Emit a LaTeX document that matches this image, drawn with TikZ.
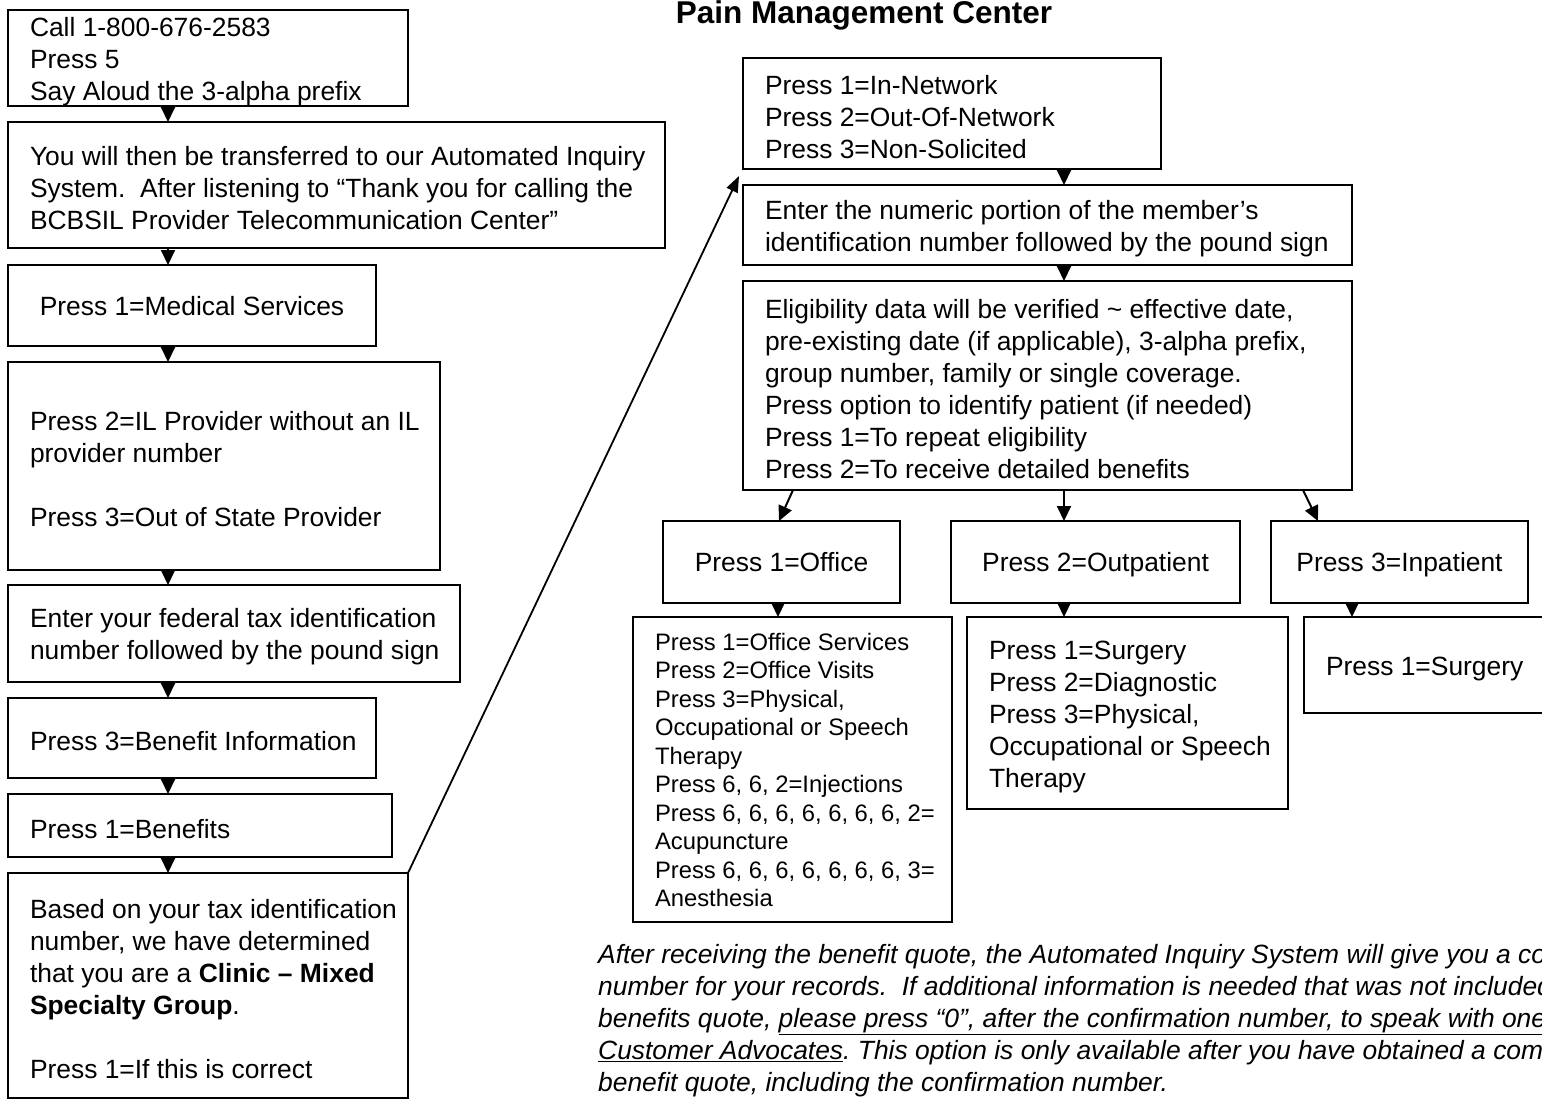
\documentclass[tikz,border=0pt]{standalone}
\usepackage{fontspec}
\setmainfont{Liberation Sans}
\usetikzlibrary{arrows.meta}

\newlength{\padtop}
\newcommand{\bodyfont}{\fontsize{26.4}{32}\selectfont\setlength{\padtop}{26pt}}
\newcommand{\smallfont}{\fontsize{23.8}{28.5}\selectfont\setlength{\padtop}{18pt}}
\newcommand{\titlefont}{\fontsize{31.5}{36}\selectfont\bfseries}

\tikzset{
  stepbox/.style={draw, line width=2.4pt, anchor=north west, outer sep=0pt,
    inner sep=0pt, align=flush left, font=\bodyfont,
    execute at begin node={\leftskip=22pt\relax\rule{0pt}{\padtop}}},
  midbox/.style={draw, line width=2.4pt, anchor=north west, outer sep=0pt,
    inner sep=0pt, align=flush center, font=\bodyfont,
    text height=19pt, text depth=0pt},
  flow/.style={line width=2pt, -{Triangle[length=15pt,width=14pt]}},
  jump/.style={line width=1.8pt, -{Triangle[length=16pt,width=12pt]}},
}

\begin{document}
\frenchspacing
\begin{tikzpicture}[x=1pt, y=-1pt]

    \useasboundingbox (0,0) rectangle (1542,1101);
    \fill[white] (0,0) rectangle (1542,1101);
    \clip (0,0) rectangle (1542,1101);

    % left column
    \node[stepbox, text width=400pt, minimum height=96pt] (call) at (8,10)
        {Call 1-800-676-2583\\Press 5\\Say Aloud the 3-alpha prefix};
    \node[stepbox, text width=657pt, minimum height=126pt] (xfer) at (8,122)
        {You will then be transferred to our Automated Inquiry\\System.\ \ After listening to “Thank you for calling the\\BCBSIL Provider Telecommunication Center”};
    \node[midbox, text width=368pt, minimum height=81pt] (med) at (8,265)
        {Press 1=Medical Services};
    \node[stepbox, text width=432pt, minimum height=208pt] (ilprov) at (8,362)
        {Press 2=IL Provider without an IL\\provider number\\[32pt]Press 3=Out of State Provider};
    \node[stepbox, text width=452pt, minimum height=97pt] (fedtax) at (8,585)
        {Enter your federal tax identification\\number followed by the pound sign};
    \node[stepbox, text width=368pt, minimum height=80pt] (bnfinfo) at (8,698)
        {Press 3=Benefit Information};
    \node[stepbox, text width=384pt, minimum height=63pt] (bnf) at (8,794)
        {Press 1=Benefits};
    \node[stepbox, text width=400pt, minimum height=225pt] (clinic) at (8,873)
        {Based on your tax identification\\number, we have determined\\that you are a {\bfseries Clinic – Mixed}\\{\bfseries Specialty Group}.\\[32pt]Press 1=If this is correct};

    \draw[flow] ([xshift=160pt]call.south west) -- ([xshift=160pt]xfer.north west);
    \draw[flow] ([xshift=160pt]xfer.south west) -- ([xshift=160pt]med.north west);
    \draw[flow] ([xshift=160pt]med.south west) -- ([xshift=160pt]ilprov.north west);
    \draw[flow] ([xshift=160pt]ilprov.south west) -- ([xshift=160pt]fedtax.north west);
    \draw[flow] ([xshift=160pt]fedtax.south west) -- ([xshift=160pt]bnfinfo.north west);
    \draw[flow] ([xshift=160pt]bnfinfo.south west) -- ([xshift=160pt]bnf.north west);
    \draw[flow] ([xshift=160pt]bnf.south west) -- ([xshift=160pt]clinic.north west);

    % right column
    \node[font=\titlefont, anchor=base, inner sep=0pt] (title) at (864,23) {Pain Management Center};

    \node[stepbox, text width=418pt, minimum height=111pt] (innet) at (743,58)
        {Press 1=In-Network\\Press 2=Out-Of-Network\\Press 3=Non-Solicited};
    \node[stepbox, text width=609pt, minimum height=80pt] (memid) at (743,185)
        {Enter the numeric portion of the member’s\\identification number followed by the pound sign};
    \node[stepbox, text width=609pt, minimum height=209pt] (elig) at (743,281)
        {Eligibility data will be verified \textasciitilde{} effective date,\\pre-existing date (if applicable), 3-alpha prefix,\\group number, family or single coverage.\\Press option to identify patient (if needed)\\Press 1=To repeat eligibility\\Press 2=To receive detailed benefits};

    \node[midbox, text width=237pt, minimum height=82pt] (office) at (663,521) {Press 1=Office};
    \node[midbox, text width=289pt, minimum height=82pt] (outpt) at (951,521) {Press 2=Outpatient};
    \node[midbox, text width=257pt, minimum height=82pt] (inpt) at (1271,521) {Press 3=Inpatient};

    \node[stepbox, font=\smallfont, text width=319pt, minimum height=305pt] (offsub) at (633,617)
        {Press 1=Office Services\\Press 2=Office Visits\\Press 3=Physical,\\Occupational or Speech\\Therapy\\Press 6, 6, 2=Injections\\Press 6, 6, 6, 6, 6, 6, 6, 2=\\Acupuncture\\Press 6, 6, 6, 6, 6, 6, 6, 3=\\Anesthesia};
    \node[stepbox, text width=321pt, minimum height=192pt] (outsub) at (967,617)
        {Press 1=Surgery\\Press 2=Diagnostic\\Press 3=Physical,\\Occupational or Speech\\Therapy};
    \node[stepbox, text width=260pt, minimum height=96pt] (insub) at (1304,617)
        {Press 1=Surgery};

    \node[anchor=north west, inner sep=0pt, align=flush left, font=\bodyfont\itshape] (note) at (598,944)
        {After receiving the benefit quote, the Automated Inquiry System will give you a confirmation\\number for your records.\ \ If additional information is needed that was not included in the\\benefits quote, \underline{please press “0”, after the confirmation number, to speak with one of our}\\\underline{Customer Advocates}. This option is only available after you have obtained a complete\\benefit quote, including the confirmation number.};

    \coordinate (inq) at (739,176);
    \draw[jump] (clinic.north east) -- (inq);

    \draw[flow] ([xshift=321pt]innet.south west) -- ([xshift=321pt]memid.north west);
    \draw[flow] ([xshift=321pt]memid.south west) -- ([xshift=321pt]elig.north west);
    \draw[flow] ([xshift=50pt]elig.south west) -- ([xshift=116pt]office.north west);
    \draw[flow] ([xshift=321pt]elig.south west) -- ([xshift=113pt]outpt.north west);
    \draw[flow] ([xshift=560pt]elig.south west) -- ([xshift=47pt]inpt.north west);
    \draw[flow] ([xshift=115pt]office.south west) -- ([xshift=145pt]offsub.north west);
    \draw[flow] ([xshift=113pt]outpt.south west) -- ([xshift=97pt]outsub.north west);
    \draw[flow] ([xshift=81pt]inpt.south west) -- ([xshift=48pt]insub.north west);

\end{tikzpicture}
\end{document}
